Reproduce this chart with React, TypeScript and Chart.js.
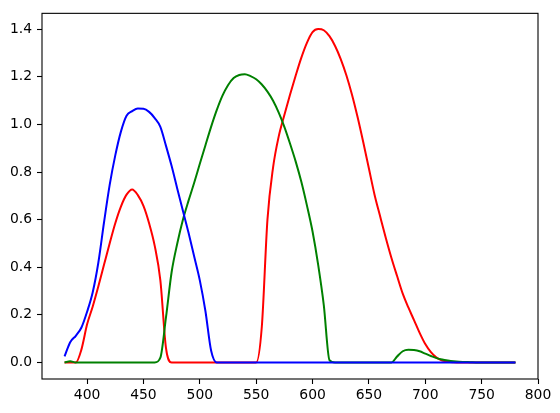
import React, { useEffect, useRef } from "react";
import { Chart, registerables } from "chart.js";

Chart.register(...registerables);

const wavelengths: number[] = [];
for (let w = 380; w <= 780; w += 5) wavelengths.push(w);

// values at 5 nm steps, 380..780 (each row = 10 samples = 50 nm)
const redValues = [
  0, 0, 0, 0.055, 0.16, 0.235, 0.32, 0.41, 0.5, 0.585, // 380-425
  0.655, 0.705, 0.727, 0.703, 0.658, 0.585, 0.49, 0.345, 0.06, 0, // 430-475
  0, 0, 0, 0, 0, 0, 0, 0, 0, 0, // 480-525
  0, 0, 0, 0, 0, 0.15, 0.6, 0.82, 0.95, 1.04, // 530-575
  1.125, 1.205, 1.28, 1.343, 1.388, 1.401, 1.396, 1.371, 1.33, 1.275, // 580-625
  1.207, 1.125, 1.03, 0.925, 0.815, 0.705, 0.613, 0.523, 0.439, 0.363, // 630-675
  0.289, 0.231, 0.178, 0.124, 0.077, 0.043, 0.02, 0.008, 0.003, 0.001, // 680-725
  0, 0, 0, 0, 0, 0, 0, 0, 0, 0, // 730-775
  0, // 780
];

const greenValues = [
  0, 0.005, 0, 0, 0, 0, 0, 0, 0, 0, // 380-425
  0, 0, 0, 0, 0, 0, 0, 0.02, 0.19, 0.38, // 430-475
  0.5, 0.6, 0.68, 0.755, 0.835, 0.913, 0.99, 1.06, 1.12, 1.165, // 480-525
  1.195, 1.208, 1.211, 1.203, 1.19, 1.168, 1.138, 1.1, 1.05, 0.99, // 530-575
  0.92, 0.845, 0.76, 0.66, 0.55, 0.41, 0.24, 0.01, 0, 0, // 580-625
  0, 0, 0, 0, 0, 0, 0, 0, 0, 0.025, // 630-675
  0.047, 0.053, 0.052, 0.047, 0.037, 0.027, 0.018, 0.012, 0.008, 0.005, // 680-725
  0.003, 0.002, 0.001, 0, 0, 0, 0, 0, 0, 0, // 730-775
  0, // 780
];

const blueValues = [
  0.025, 0.085, 0.112, 0.147, 0.213, 0.295, 0.42, 0.588, 0.745, 0.87, // 380-425
  0.97, 1.037, 1.056, 1.067, 1.066, 1.053, 1.027, 0.99, 0.91, 0.825, // 430-475
  0.73, 0.637, 0.545, 0.445, 0.345, 0.215, 0.05, 0, 0, 0, // 480-525
  0, 0, 0, 0, 0, 0, 0, 0, 0, 0, // 530-575
  0, 0, 0, 0, 0, 0, 0, 0, 0, 0, // 580-625
  0, 0, 0, 0, 0, 0, 0, 0, 0, 0, // 630-675
  0, 0, 0, 0, 0, 0, 0, 0, 0, 0, // 680-725
  0, 0, 0, 0, 0, 0, 0, 0, 0, 0, // 730-775
  0, // 780
];

const xTicks = [400, 450, 500, 550, 600, 650, 700, 750, 800];
const yTicks = [0, 0.2, 0.4, 0.6, 0.8, 1.0, 1.2, 1.4];

const toPoints = (vals: number[]) => wavelengths.map((w, i) => ({ x: w, y: vals[i] }));

const framePlugin = {
  id: "frame",
  afterDraw(chart: any) {
    const { ctx, chartArea } = chart;
    ctx.save();
    ctx.strokeStyle = "#000";
    ctx.lineWidth = 1.1;
    ctx.strokeRect(chartArea.left, chartArea.top, chartArea.right - chartArea.left, chartArea.bottom - chartArea.top);
    ctx.restore();
  },
};

const lineStyle = {
  borderWidth: 2,
  pointRadius: 0,
  cubicInterpolationMode: "monotone" as const,
  fill: false,
};

export default function App() {
  const ref = useRef<HTMLCanvasElement | null>(null);
  useEffect(() => {
    if (!ref.current) return;
    const font = { family: "'DejaVu Sans', sans-serif", size: 13.9 };
    const chart = new Chart(ref.current, {
      type: "line",
      data: {
        datasets: [
          { data: toPoints(redValues), borderColor: "#ff0000", order: 3, ...lineStyle },
          { data: toPoints(greenValues), borderColor: "#008000", order: 2, ...lineStyle },
          { data: toPoints(blueValues), borderColor: "#0000ff", order: 1, ...lineStyle },
        ],
      },
      options: {
        responsive: false,
        animation: false,
        layout: { padding: { top: 10, right: 22, left: 0, bottom: 0 } },
        plugins: { legend: { display: false }, tooltip: { enabled: false } },
        scales: {
          x: {
            type: "linear",
            min: 360,
            max: 800,
            afterBuildTicks: (s: any) => {
              s.ticks = xTicks.map((v) => ({ value: v }));
            },
            afterFit: (s: any) => {
              s.height = 34;
            },
            grid: { drawOnChartArea: false, drawTicks: true, tickLength: 5, tickWidth: 1.1, color: "#000" },
            border: { display: false },
            ticks: { color: "#000", font, padding: 3, maxRotation: 0, autoSkip: false, callback: (v: any) => String(v) },
          },
          y: {
            type: "linear",
            min: -0.0696,
            max: 1.467,
            afterBuildTicks: (s: any) => {
              s.ticks = yTicks.map((v) => ({ value: v }));
            },
            afterFit: (s: any) => {
              s.width = 42;
            },
            grid: { drawOnChartArea: false, drawTicks: true, tickLength: 5, tickWidth: 1.1, color: "#000" },
            border: { display: false },
            ticks: { color: "#000", font, padding: 5, autoSkip: false, callback: (v: any) => Number(v).toFixed(1) },
          },
        },
      },
      plugins: [framePlugin],
    });
    return () => chart.destroy();
  }, []);
  return (
    <div style={{ position: "fixed", left: 0, top: 0, width: 560, height: 413, background: "#fff" }}>
      <canvas ref={ref} width={560} height={413} style={{ display: "block" }} />
    </div>
  );
}
